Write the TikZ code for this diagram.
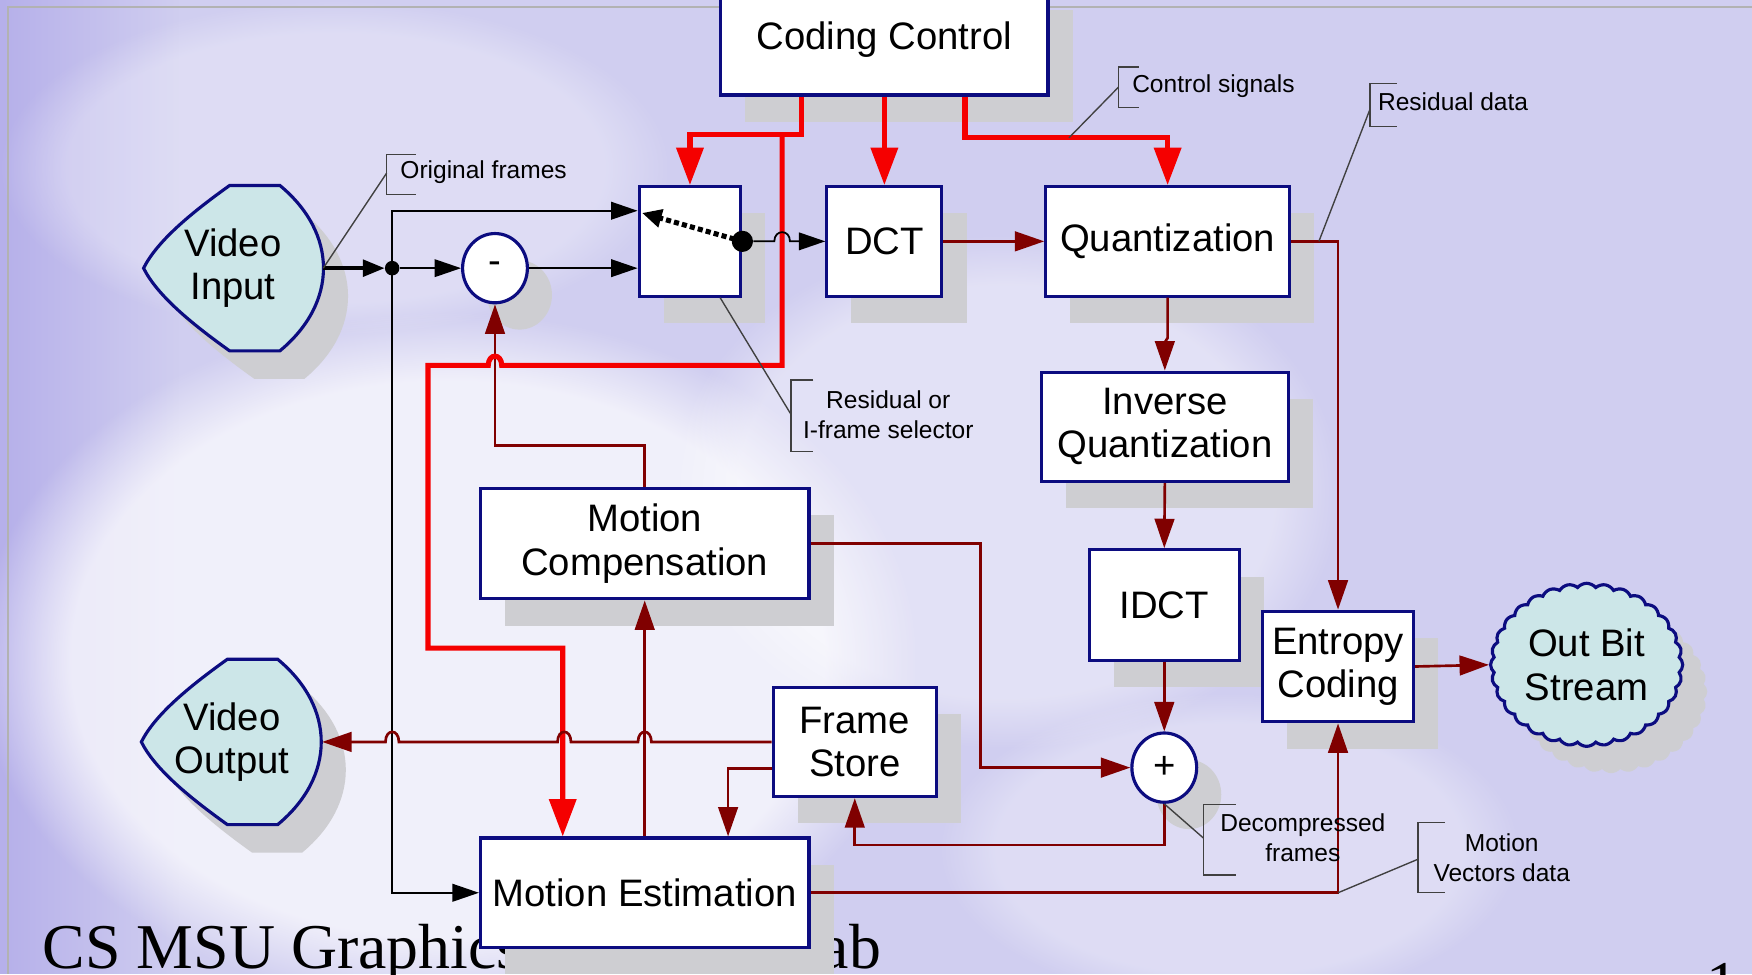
\documentclass[tikz,border=0pt]{standalone}
\usepackage{fontspec}
\setmainfont{Liberation Sans}
\newfontfamily\timesfont{Liberation Serif}
\usetikzlibrary{arrows.meta,shapes.geometric,shapes.symbols,shadows,fadings,calc}
\definecolor{navy}{RGB}{12,12,128}
\definecolor{dred}{RGB}{128,0,0}
\definecolor{bred}{RGB}{245,0,0}
\definecolor{cyanfill}{RGB}{204,230,232}
\definecolor{shadowgray}{RGB}{206,206,210}
\definecolor{bglav}{RGB}{208,206,240}
\definecolor{lavdark}{RGB}{182,176,234}
\tikzfading[name=fadeR, left color=transparent!0, right color=transparent!100]
\newcommand\bigf{\fontsize{19.5}{22}\selectfont}
\newcommand\lblf{\fontsize{12.5}{15.3}\selectfont}
\begin{document}
\begin{tikzpicture}[x=0.02cm,y=-0.02cm,
  shd/.style={shadow xshift=0.44cm, shadow yshift=-0.48cm, fill=shadowgray, opacity=1},
  box/.style={rectangle, draw=navy, line width=1.6pt, fill=white, inner sep=0pt, align=center, font=\bigf, drop shadow={shd}},
  sz/.style 2 args={minimum width=#1, minimum height=#2},
  circ/.style={ellipse, draw=navy, line width=1.6pt, fill=white, inner sep=0pt, minimum width=1.16cm, minimum height=1.24cm, font=\bigf, drop shadow={shd}},
  rarr/.style={draw=bred, line width=2.6pt, -{Triangle[length=19pt,width=13.5pt]}},
  darr/.style={draw=dred, line width=1.35pt, -{Triangle[length=15pt,width=10pt]}},
  barr/.style={draw=black, line width=0.9pt, -{Triangle[length=13.5pt,width=9pt]}},
  brk/.style={draw=black!75, line width=0.7pt},
  lbl/.style={font=\lblf, align=center, inner sep=0pt},
  lens/.pic={\path[pic actions] (-3,-74) -- (42,-74) .. controls (94,-31) and (94,31) .. (42,74) -- (-3,74) .. controls (-38,49) and (-68,24) .. (-80,0) .. controls (-68,-24) and (-38,-49) .. (-3,-74) -- cycle;}
]
\useasboundingbox (0,0) rectangle (1568,872);
\clip (0,0) rectangle (1568,872);
% background
\fill[bglav] (0,0) rectangle (1568,872);
\fill[lavdark, path fading=fadeR] (0,0) rectangle (160,872);
\fill[white, fill opacity=0.7, path fading=circle with fuzzy edge 20 percent] (400,590) ellipse [x radius=420, y radius=310];
\fill[white, fill opacity=0.4, path fading=circle with fuzzy edge 20 percent] (900,440) ellipse [x radius=300, y radius=230];
\fill[white, fill opacity=0.3, path fading=circle with fuzzy edge 20 percent] (1100,760) ellipse [x radius=260, y radius=140];
\fill[white, fill opacity=0.3, path fading=circle with fuzzy edge 20 percent] (300,150) ellipse [x radius=300, y radius=150];
\draw[black!30, line width=1.2pt] (1568,6) -- (7,6) -- (7,872);
% footer
\node[anchor=base west, inner sep=0pt, font=\timesfont\fontsize{32.5}{34}\selectfont] (title) at (38,867) {CS MSU Graphics \& Media Lab};
\node[anchor=base west, inner sep=0pt, font=\timesfont\fontsize{32.5}{34}\selectfont] (pgno) at (1527,900) {1};

% boxes
\node[box, sz={5.86cm}{2.0cm}] (cc) at (791.5,35) {Coding Control};
\node[box, sz={1.82cm}{1.96cm}] (sw) at (617.5,216) {};
\node[box, sz={2.06cm}{1.96cm}] (dct) at (791.5,216) {DCT};
\node[box, sz={4.36cm}{1.96cm}] (q) at (1045,216) {Quantization};
\node[box, sz={4.42cm}{1.96cm}] (iq) at (1042.5,382) {Inverse\\Quantization};
\node[box, sz={2.68cm}{1.98cm}] (idct) at (1042,541.5) {IDCT};
\node[box, sz={2.70cm}{1.98cm}] (ec) at (1197.5,596.5) {Entropy\\Coding};
\node[box, sz={5.88cm}{1.98cm}] (mc) at (577,486.5) {Motion\\Compensation};
\node[box, sz={2.92cm}{1.96cm}] (fs) at (765,664) {Frame\\Store};
\node[box, sz={5.88cm}{1.96cm}] (me) at (577,799) {Motion Estimation};
\node[circ] (minus) at (443,240) {\raisebox{-0.12em}{-}};
\node[circ] (plus) at (1042,687) {+};

% lens shapes
\pic[fill=shadowgray] at (230.5,265) {lens};
\pic[fill=cyanfill, draw=navy, line width=1.6pt] at (208.5,240) {lens};
\node[rectangle, sz={3.22cm}{2.96cm}, inner sep=0pt, font=\bigf, align=center] (vin) at (208.5,240) {Video\\Input};
\pic[fill=shadowgray] at (228.5,689) {lens};
\pic[fill=cyanfill, draw=navy, line width=1.6pt] at (206.5,664) {lens};
\node[rectangle, sz={3.22cm}{2.96cm}, inner sep=0pt, font=\bigf, align=center] (vout) at (207.5,664) {Video\\Output};

% cloud
\node[cloud, cloud puffs=32, cloud puff arc=100, cloud ignores aspect, draw=navy, line width=1.6pt, fill=cyanfill, minimum width=3.44cm, minimum height=2.92cm, inner sep=0pt, font=\bigf, align=center, drop shadow={shd}] (obs) at (1420,595) {Out Bit\\Stream};

% dark red connectors
\draw[darr] (dct.east) -- (q.west);
\draw[darr] (q.south) -- ++(0,36) -- ++(-2.5,4) -- (iq.north);
\draw[darr] (q.east) -| (ec.north);
\draw[darr] (iq.south) -- (idct.north);
\draw[darr] (idct.south) -- (plus.north);
\draw[darr] (mc.east) -- ++(152,0) |- (plus.west);
\draw[darr] (plus.south) -- ++(0,37) -| (fs.south);
\draw[darr] ($(fs.west)+(0,24)$) -| ($(me.north west)+(223,0)$);
\draw[darr] (me.north) -- (mc.south);
\draw[darr] (mc.north) -- ++(0,-37) -| (minus.south);
\draw[darr] (me.east) -| (ec.south);
\draw[darr] (ec.east) -- (obs.west);

% red connectors
\coordinate (ccA) at ($(cc.south west)+(74,0)$);
\coordinate (ccC) at ($(cc.south west)+(220,0)$);
\coordinate (rj) at (700,119);
\draw[rarr] (ccA) -- ++(0,34) -| (sw.north);
\draw[rarr] (rj) -- (700,327) -- (449,327) .. controls (449,316) and (437,316) .. (437,327) -- (383,327) -- (383,580) -| ($(me.north west)+(75,0)$);
\draw[rarr] (cc.south -| dct.north) -- (dct.north);
\draw[rarr] (ccC) -- ++(0,37) -| (q.north);

% black connectors
\node[circle, fill=black, minimum size=0.26cm, inner sep=0pt] (jd) at (351,240) {};
\draw[draw=black, line width=1.7pt, -{Triangle[length=11pt,width=8.5pt]}] (vin.east) -- (jd.west);
\draw[barr] (jd.east) -- (minus.west);
\draw[barr] (jd.center) |- ($(sw.north west)+(0,23)$);
\draw[barr] (jd.center) |- (me.west);
\draw[barr] (minus.east) -- (minus.east -| sw.west);
\draw[black, line width=2.6pt, dash pattern=on 2.6pt off 1.6pt, -{Triangle[length=10pt,width=9pt]}] (sw.east) -- ($(sw.north west)+(4,25)$);
\node[circle, fill=black, minimum size=0.38cm, inner sep=0pt] (swd) at (sw.east) {};
\draw[barr] (swd.east) -- (693,216) .. controls (693,205) and (707,205) .. (707,216) -- (dct.west);

% Frame store -> video output with hops
\draw[darr] (fs.west) -- (583,664) .. controls (583,652) and (571,652) .. (571,664) -- (511,664) .. controls (511,652) and (499,652) .. (499,664) -- (357,664) .. controls (357,652) and (345,652) .. (345,664) -- (vout.east);

% annotations
\node[lbl, anchor=west] (lof) at (358,154) {Original frames};
\draw[brk] (372,138) -- (346,138) -- (346,174) -- (372,174);
\draw[brk] (346,155) -- (vin.east);

\node[lbl, anchor=west] (lcs) at (1013,77) {Control signals};
\draw[brk] (1019,60) -- (1001,60) -- (1001,96) -- (1019,96);
\draw[brk] (1001,78) -- ($(ccC)+(93,37)$);

\node[lbl, anchor=west] (lrd) at (1233,91) {Residual data};
\draw[brk] (1250,75) -- (1226,75) -- (1226,113) -- (1250,113);
\draw[brk] (1226,98) -- ($(q.east)+(25,0)$);

\node[lbl] (lrs) at (795,371) {Residual or\\I-frame selector};
\draw[brk] (728,340) -- (708,340) -- (708,404) -- (728,404);
\draw[brk] (708,371) -- ($(sw.south)+(27,0)$);

\node[lbl] (ldf) at (1166,750) {Decompressed\\frames};
\draw[brk] (1106,720) -- (1077,720) -- (1077,783) -- (1106,783);
\draw[brk] (1077,750) -- (plus.south);

\node[lbl] (lmv) at (1344,768) {Motion\\Vectors data};
\draw[brk] (1293,736) -- (1269,736) -- (1269,799) -- (1293,799);
\draw[brk] (1269,769) -- (me.east -| ec.south);
\end{tikzpicture}
\end{document}
